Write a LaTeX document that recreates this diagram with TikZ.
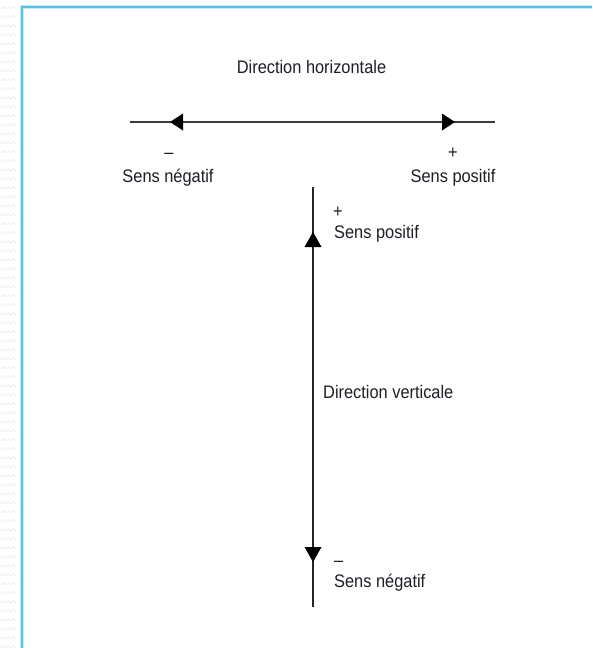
\documentclass[tikz,border=0pt]{standalone}
\usepackage{fontspec}
\setmainfont{Liberation Sans}
\usetikzlibrary{calc}
\definecolor{frameblue}{RGB}{88,190,230}
\definecolor{framelight}{RGB}{200,236,248}
\definecolor{linegray}{RGB}{60,60,60}
\definecolor{txt}{RGB}{30,30,38}
\newcommand{\cond}[1]{\scalebox{0.9}[1]{#1}}
\tikzset{
  lbl/.style={inner sep=0pt, text=txt, font=\fontsize{18.2}{20}\selectfont},
  axis/.style={draw=linegray, line width=1.5pt},
  head/.style={fill=black}
}
\begin{document}
\begin{tikzpicture}[x=1pt,y=-1pt]
\useasboundingbox (0,0) rectangle (592,648);
\fill[white] (0,0) rectangle (592,648);
% background texture at left
\foreach \r in {0,9,...,648}{
  \draw[gray!12, line width=0.8pt] (1,\r) -- (3.5,\r-2.5) -- (6,\r) -- (8.5,\r-2.5) -- (11,\r) -- (13.5,\r-2.5) -- (16,\r);
}
% frame
\draw[framelight, line width=4pt] (21.5,648) -- (21.5,6.5) -- (592,6.5);
\draw[frameblue, line width=2pt] (21.5,648) -- (21.5,6.5) -- (592,6.5);
% horizontal axis
\coordinate (hl) at (130,122);
\coordinate (hr) at (495,122);
\draw[axis] (hl) -- (hr);
\fill[head] (170,122) -- (183,113.5) -- (183,130.5) -- cycle;
\fill[head] (455,122) -- (442,113.5) -- (442,130.5) -- cycle;
% vertical axis
\coordinate (vt) at (313,187);
\coordinate (vb) at (313,607);
\draw[axis, draw=black!85, line width=1.4pt] (vt) -- (vb);
\fill[head] (313,232) -- (304.5,247) -- (321.5,247) -- cycle;
\fill[head] (313,562) -- (304.5,547) -- (321.5,547) -- cycle;
% labels
\node[lbl, anchor=base] (dh) at (311.5,73) {\cond{Direction horizontale}};
\node[lbl, anchor=base] (mh) at (169,158) {\cond{–}};
\node[lbl, anchor=base] (sn) at (168,182) {\cond{Sens négatif}};
\node[lbl, anchor=base] (ph) at (453,158) {\cond{+}};
\node[lbl, anchor=base] (sp) at (453,182) {\cond{Sens positif}};
\node[lbl, anchor=base west] (pv) at (333,217) {\cond{+}};
\node[lbl, anchor=base west] (spv) at (334,238) {\cond{Sens positif}};
\node[lbl, anchor=base west] (dv) at (323,398) {\cond{Direction verticale}};
\node[lbl, anchor=base west] (mv) at (334,566) {\cond{–}};
\node[lbl, anchor=base west] (snv) at (334,587) {\cond{Sens négatif}};
\end{tikzpicture}
\end{document}
